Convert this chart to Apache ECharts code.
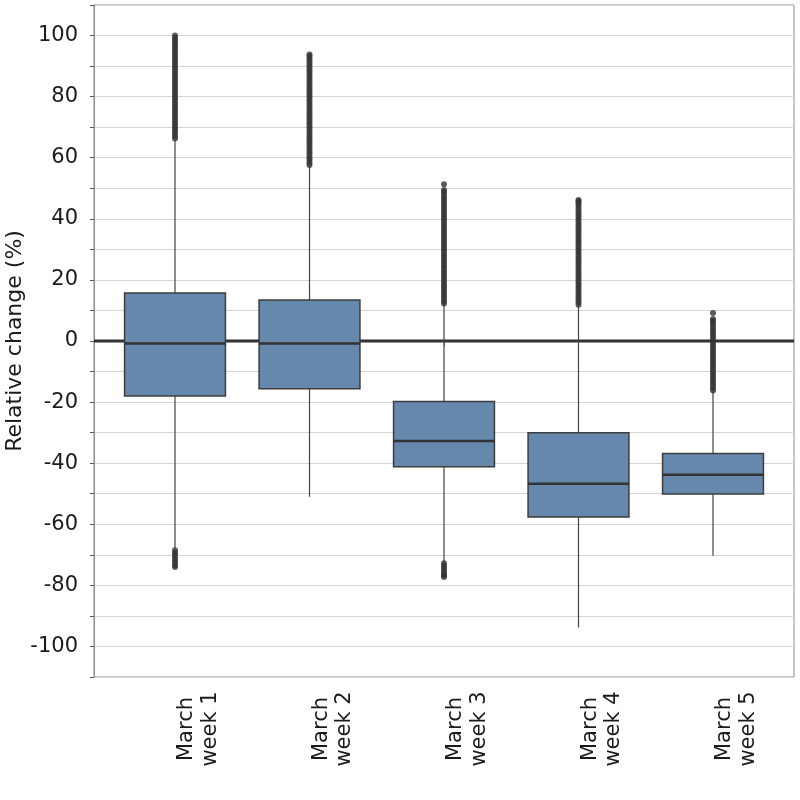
<!DOCTYPE html>
<html>
<head>
<meta charset="utf-8">
<script src="https://cdn.jsdelivr.net/npm/echarts@6/dist/echarts.min.js"></script>
<style>html,body{margin:0;padding:0;background:#fff}#c{width:800px;height:800px}</style>
</head>
<body>
<div id="c"></div>
<script>
var categories = ['March\nweek 1', 'March\nweek 2', 'March\nweek 3', 'March\nweek 4', 'March\nweek 5'];
var whiskerLow = [-68.0, -51.0, -72.5, -93.8, -70.3];
var q1 = [-18.0, -15.6, -41.2, -57.6, -50.1];
var median = [-0.8, -0.8, -32.7, -46.7, -43.8];
var q3 = [15.7, 13.4, -19.8, -30.0, -36.8];
var whiskerHigh = [66.0, 57.4, 12.0, 11.6, -16.3];

var outW1High = [66.3, 67.1, 68.0, 68.8, 69.6, 70.5, 71.3, 72.2, 73.0, 73.9, 74.7, 75.6, 76.4, 77.3, 78.1, 79.0, 79.8, 80.7, 81.5, 82.4, 83.2, 84.1, 84.9, 85.8, 86.6, 87.5, 88.3, 89.2, 90.0, 90.9, 91.7, 92.6, 93.4, 94.3, 95.1, 96.0, 96.8, 97.7, 98.5, 99.3, 100.0];
var outW1Low = [-68.5, -69.3, -70.1, -71.0, -71.8, -72.6, -73.4, -74.0];
var outW2High = [57.6, 58.4, 59.3, 60.1, 61.0, 61.8, 62.7, 63.5, 64.4, 65.2, 66.1, 66.9, 67.8, 68.6, 69.5, 70.3, 71.2, 72.0, 72.9, 73.7, 74.6, 75.4, 76.3, 77.1, 78.0, 78.8, 79.7, 80.5, 81.4, 82.2, 83.1, 83.9, 84.8, 85.6, 86.5, 87.3, 88.2, 89.0, 89.9, 90.7, 91.6, 92.4, 93.2, 93.8];
var outW3High = [12.3, 13.1, 14.0, 14.8, 15.7, 16.5, 17.4, 18.2, 19.1, 19.9, 20.8, 21.6, 22.5, 23.3, 24.2, 25.0, 25.9, 26.7, 27.6, 28.4, 29.3, 30.1, 31.0, 31.8, 32.7, 33.5, 34.4, 35.2, 36.1, 36.9, 37.8, 38.6, 39.5, 40.3, 41.2, 42.0, 42.9, 43.7, 44.6, 45.4, 46.3, 47.1, 48.0, 48.8, 49.4, 51.3];
var outW3Low = [-72.8, -73.6, -74.4, -75.2, -76.0, -76.7, -77.3];
var outW4High = [11.9, 12.7, 13.6, 14.4, 15.3, 16.1, 17.0, 17.8, 18.7, 19.5, 20.4, 21.2, 22.1, 22.9, 23.8, 24.6, 25.5, 26.3, 27.2, 28.0, 28.9, 29.7, 30.6, 31.4, 32.3, 33.1, 34.0, 34.8, 35.7, 36.5, 37.4, 38.2, 39.1, 39.9, 40.8, 41.6, 42.5, 43.3, 44.2, 45.0, 45.7, 46.2];
var outW5High = [-16.2, -15.4, -14.5, -13.7, -12.8, -12.0, -11.1, -10.3, -9.4, -8.6, -7.7, -6.9, -6.0, -5.2, -4.3, -3.5, -2.6, -1.8, -0.9, -0.1, 0.8, 1.6, 2.5, 3.3, 4.2, 5.0, 5.9, 6.6, 7.2, 9.2];

var outlierGroups = [[0, outW1High], [0, outW1Low], [1, outW2High], [2, outW3High], [2, outW3Low], [3, outW4High], [4, outW5High]];
var outlierData = [];
outlierGroups.forEach(function (g) { g[1].forEach(function (v) { outlierData.push([g[0], v]); }); });

var boxData = categories.map(function (c, i) { return [i, whiskerLow[i], q1[i], median[i], q3[i], whiskerHigh[i]]; });

var FONT = 'DejaVu Sans';
var chart = echarts.init(document.getElementById('c'));
chart.setOption({
  animation: false,
  backgroundColor: '#ffffff',
  grid: [
    { left: 94, right: 6, top: 5, bottom: 123, containLabel: false, outerBoundsMode: 'none', show: true, borderColor: '#8c8c8c', borderWidth: 1, backgroundColor: 'transparent' },
    { left: 107.75, right: 19.75, top: 5, bottom: 123, containLabel: false, outerBoundsMode: 'none' }
  ],
  xAxis: [
    { type: 'value', gridIndex: 0, min: 0, max: 1, show: false },
    {
      type: 'category', gridIndex: 1, data: categories, boundaryGap: true,
      axisLine: { show: false },
      axisTick: { show: true, alignWithLabel: true, length: 5, lineStyle: { color: '#555' } },
      axisLabel: {
        interval: 0, rotate: 90, align: 'center', verticalAlign: 'top', margin: 52,
        lineHeight: 23.5,
        fontFamily: FONT, fontSize: 21, color: '#1a1a1a'
      },
      splitLine: { show: false }
    }
  ],
  yAxis: [
    {
      type: 'value', gridIndex: 0, min: -110, max: 110, interval: 10,
      name: 'Relative change (%)', nameLocation: 'middle', nameGap: 68, nameMoveOverlap: false,
      nameTextStyle: { fontFamily: FONT, fontSize: 22, color: '#1a1a1a' },
      axisLine: { show: true, lineStyle: { color: '#8c8c8c' } },
      axisTick: { show: true, length: 4, lineStyle: { color: '#555' } },
      axisLabel: {
        margin: 16, fontFamily: FONT, fontSize: 21, color: '#1a1a1a',
        formatter: function (v) { return (Math.round(v) % 20 === 0) ? String(Math.round(v)) : ''; }
      },
      splitLine: { show: true, lineStyle: { color: '#d4d4d4', width: 1 } }
    },
    { type: 'value', gridIndex: 1, min: -110, max: 110, interval: 10, show: false, splitLine: { show: false } }
  ],
  series: [
    {
      type: 'line', xAxisIndex: 0, yAxisIndex: 0, data: [[0, 0], [1, 0]],
      symbol: 'none', lineStyle: { color: '#333333', width: 3 }, z: 1, silent: true
    },
    {
      type: 'custom', xAxisIndex: 1, yAxisIndex: 1, data: boxData, z: 3,
      encode: { x: 0, y: [1, 2, 3, 4, 5] },
      renderItem: function (params, api) {
        var idx = api.value(0);
        var band = api.size([1, 0])[0];
        var half = band * 0.375;
        var pLow = api.coord([idx, api.value(1)]);
        var pQ1 = api.coord([idx, api.value(2)]);
        var pMed = api.coord([idx, api.value(3)]);
        var pQ3 = api.coord([idx, api.value(4)]);
        var pHigh = api.coord([idx, api.value(5)]);
        var x = pQ1[0];
        return {
          type: 'group',
          children: [
            { type: 'line', shape: { x1: x, y1: pLow[1], x2: x, y2: pQ1[1] }, style: { stroke: '#444', lineWidth: 1.2 } },
            { type: 'line', shape: { x1: x, y1: pQ3[1], x2: x, y2: pHigh[1] }, style: { stroke: '#444', lineWidth: 1.2 } },
            { type: 'rect', shape: { x: x - half, y: pQ3[1], width: half * 2, height: pQ1[1] - pQ3[1] }, style: { fill: '#6688ad', stroke: '#3d3d3d', lineWidth: 1.5 } },
            { type: 'line', shape: { x1: x - half, y1: pMed[1], x2: x + half, y2: pMed[1] }, style: { stroke: '#333', lineWidth: 2.5 } }
          ]
        };
      }
    },
    {
      type: 'scatter', xAxisIndex: 1, yAxisIndex: 1, data: outlierData, z: 4,
      symbol: 'circle', symbolSize: 6, itemStyle: { color: '#333333' }, silent: true
    }
  ]
});
</script>
</body>
</html>
